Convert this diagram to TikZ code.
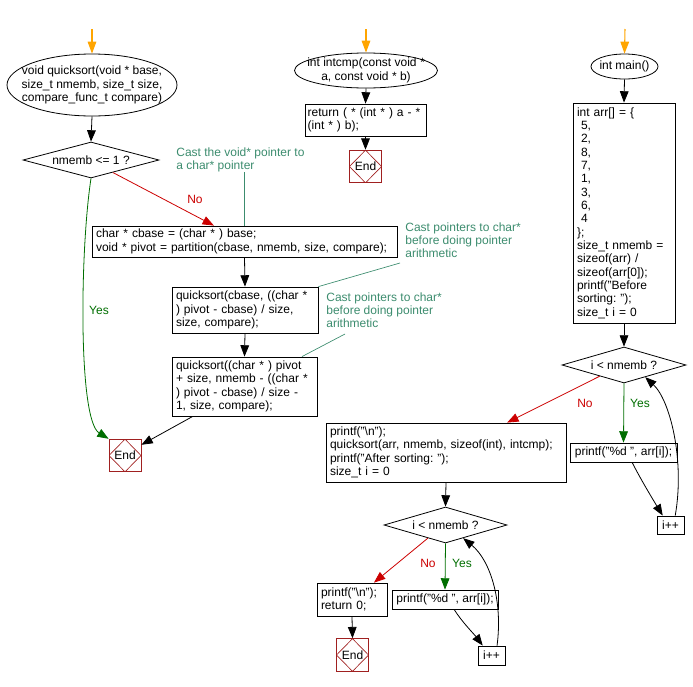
\documentclass[tikz,border=0pt]{standalone}
\usepackage{fontspec}
\setmainfont{Liberation Sans}
\usetikzlibrary{arrows.meta,shapes.geometric,calc}
\definecolor{startor}{RGB}{255,165,0}
\definecolor{nored}{RGB}{204,0,0}
\definecolor{yesgreen}{RGB}{0,110,0}
\definecolor{notegreen}{RGB}{60,140,110}
\definecolor{endred}{RGB}{160,32,32}
\frenchspacing
\begin{document}
\begin{tikzpicture}[x=0.75pt, y=-0.75pt, font=\fontsize{9}{10}\selectfont\frenchspacing, line width=0.6pt,
  arr/.style={-{Triangle[length=8.5pt,width=6.5pt]}},
  flow/.style={draw, arr},
  startarr/.style={draw=startor, line width=0.8pt, -{Triangle[length=9pt,width=6.5pt]}},
  box/.style={draw, rectangle, inner xsep=3pt, inner ysep=0pt, align=left},
  term/.style={draw, ellipse, inner sep=0pt},
  dec/.style={draw, diamond, inner sep=0pt, aspect=3.5},
  endbox/.style={draw=endred, rectangle, inner sep=0pt, minimum width=24pt, minimum height=24.5pt,
    path picture={\draw[endred, line width=0.5pt] (path picture bounding box.north) -- (path picture bounding box.east) -- (path picture bounding box.south) -- (path picture bounding box.west) -- cycle;}},
  note/.style={text=notegreen, align=left, inner sep=0pt, anchor=north west},
  noteline/.style={draw=notegreen, line width=0.5pt},
  nolab/.style={text=nored, inner sep=0pt},
  yeslab/.style={text=yesgreen, inner sep=0pt},
  noarr/.style={draw=nored, arr},
  yesarr/.style={draw=yesgreen, arr}]
\useasboundingbox (0,0) rectangle (693,686);

% ---------------- left column: quicksort ----------------
\coordinate (s1) at (92,29);
\node[term, minimum width=127.5pt, minimum height=46.5pt] (qs) at (92,85) {};
\node[align=center, inner sep=0pt] (qst) at (qs.center) {void quicksort(void * base,\\size\_t nmemb, size\_t size,\\compare\_func\_t compare)};
\node[dec, minimum width=102pt, minimum height=27pt] (d1) at (91,160) {nmemb <= 1 ?};
\node[box, minimum width=228.75pt, minimum height=23.25pt, text width=222.75pt] (b1) at (244.5,241.5)
  {char * cbase = (char * ) base;\\void * pivot = partition(cbase, nmemb, size, compare);};
\node[box, minimum width=109.5pt, minimum height=34.5pt, text width=103.5pt] (b2) at (245,310)
  {quicksort(cbase, ((char *\\) pivot - cbase) / size,\\size, compare);};
\node[box, minimum width=108.75pt, minimum height=44.25pt, text width=102.75pt] (b3) at (244.5,386.5)
  {quicksort((char * ) pivot\\+ size, nmemb - ((char *\\) pivot - cbase) / size -\\1, size, compare);};
\node[endbox] (e1) at (125,455.5) {End};

\node[note] (n1) at (176,147) {Cast the void* pointer to\\a char* pointer};
\node[note] (n2) at (405,222) {Cast pointers to char*\\before doing pointer\\arithmetic};
\node[note] (n3) at (326,292) {Cast pointers to char*\\before doing pointer\\arithmetic};
\coordinate (n2t) at (400,263);
\coordinate (n3t) at (345,334);

\draw[startarr] (s1) -- (qs.north);
\draw[flow] (qs.south) -- (d1.north);
\draw[noarr] ($(d1.south)!0.32!(d1.east)$) -- ($(b1.north west)!0.4!(b1.north east)$);
\node[nolab] (l1) at (195,199) {No};
\draw[yesarr] (d1.south) .. controls (80,250) and (78,420) .. (e1.north west);
\node[yeslab] (l2) at (99,310) {Yes};
\draw[flow] (b1.south) -- (b2.north);
\draw[flow] (b2.south) -- (b3.north);
\draw[flow] ($(b3.south west)!0.145!(b3.south east)$) -- ($(e1.north east)!0.18!(e1.south east)$);
\draw[noteline] (b1.north) -- (b1.north |- n1.south);
\draw[noteline] (n2t) -- (b2.north east);
\draw[noteline] (n3t) -- ($(b3.north west)!0.894!(b3.north east)$);

% ---------------- middle: intcmp ----------------
\coordinate (s2) at (366,29);
\node[term, minimum width=107.25pt, minimum height=26.25pt] (ic) at (366,70.5) {};
\node[align=center, inner sep=0pt] (ict) at (ic.center) {int intcmp(const void *\\a, const void * b)};
\node[box, inner xsep=2pt, minimum width=90.75pt, minimum height=24pt, text width=86.75pt] (r1) at (365.5,120)
  {return ( * (int * ) a - *\\(int * ) b);};
\node[endbox] (e2) at (365.5,166.5) {End};
\draw[startarr] (s2) -- (ic.north);
\draw[flow] (ic.south) -- (r1.north);
\draw[flow] (r1.south) -- (e2.north);

% ---------------- right: main ----------------
\coordinate (s3) at (625,29);
\node[term, minimum width=50.25pt, minimum height=18.75pt] (mn) at (624.5,66.5) {};
\node[inner sep=0pt] (mnt) at (mn.center) {int main()};
\node[box, minimum width=76.5pt, minimum height=165pt, text width=70.5pt] (m1) at (624,213)
  {int arr[] = \{\\\ 5,\\\ 2,\\\ 8,\\\ 7,\\\ 1,\\\ 3,\\\ 6,\\\ 4\\\};\\size\_t nmemb =\\sizeof(arr) /\\sizeof(arr[0]);\\printf("Before\\sorting: ");\\size\_t i = 0};
\node[dec, minimum width=93pt, minimum height=27pt] (d2) at (624,365) {i < nmemb ?};
\node[box, minimum width=80.25pt, minimum height=14.25pt, inner xsep=0pt, align=center] (p1) at (623.5,452.5) {printf("\%d ", arr[i]);};
\node[box, minimum width=20.25pt, minimum height=13.5pt, inner xsep=0pt, align=center] (ip1) at (670.5,525) {i++};
\node[box, minimum width=180pt, minimum height=44.25pt, text width=174pt] (m2) at (446,452.5)
  {printf("\textbackslash n");\\quicksort(arr, nmemb, sizeof(int), intcmp);\\printf("After sorting: ");\\size\_t i = 0};

\draw[startarr] (s3) -- (mn.north);
\draw[flow] (mn.south) -- (m1.north);
\draw[flow] (m1.south) -- (d2.north);
\draw[yesarr] (d2.south) -- (p1.north);
\node[yeslab] (l3) at (640,403) {Yes};
\draw[noarr] ($(d2.south)!0.39!(d2.west)$) -- ($(m2.north west)!0.754!(m2.north east)$);
\node[nolab] (l4) at (585,403) {No};
\draw[flow] ($(p1.south west)!0.58!(p1.south east)$) .. controls (640,478) and (652,498) .. ($(ip1.north west)!0.22!(ip1.north east)$);
\draw[flow] ($(ip1.north west)!0.67!(ip1.north east)$) .. controls (685,460) and (670,400) .. ($(d2.south)!0.34!(d2.east)$);

% ---------------- bottom middle ----------------
\node[dec, minimum width=92.25pt, minimum height=27pt] (d3) at (445.5,525) {i < nmemb ?};
\node[box, minimum width=79.5pt, minimum height=14.25pt, inner xsep=0pt, align=center] (p2) at (445,599.5) {printf("\%d ", arr[i]);};
\node[box, minimum width=52.5pt, minimum height=24.75pt, text width=46.5pt] (r2) at (352,599.5) {printf("\textbackslash n");\\return 0;};
\node[endbox] (e3) at (352.5,655) {End};
\node[box, minimum width=20.25pt, minimum height=14.25pt, inner xsep=0pt, align=center] (ip2) at (491.5,655.5) {i++};

\draw[flow] (m2.south) -- (d3.north);
\draw[noarr] ($(d3.south)!0.285!(d3.west)$) -- ($(r2.north west)!0.81!(r2.north east)$);
\node[nolab] (l5) at (428,563) {No};
\draw[yesarr] (d3.south) -- (p2.north);
\node[yeslab] (l6) at (462,563) {Yes};
\draw[flow] ($(p2.south west)!0.585!(p2.south east)$) .. controls (462,622) and (474,634) .. ($(ip2.north west)!0.185!(ip2.north east)$);
\draw[flow] ($(ip2.north west)!0.7!(ip2.north east)$) .. controls (503,600) and (490,560) .. ($(d3.south)!0.285!(d3.east)$);
\draw[flow] (r2.south) -- (e3.north);
\end{tikzpicture}
\end{document}
